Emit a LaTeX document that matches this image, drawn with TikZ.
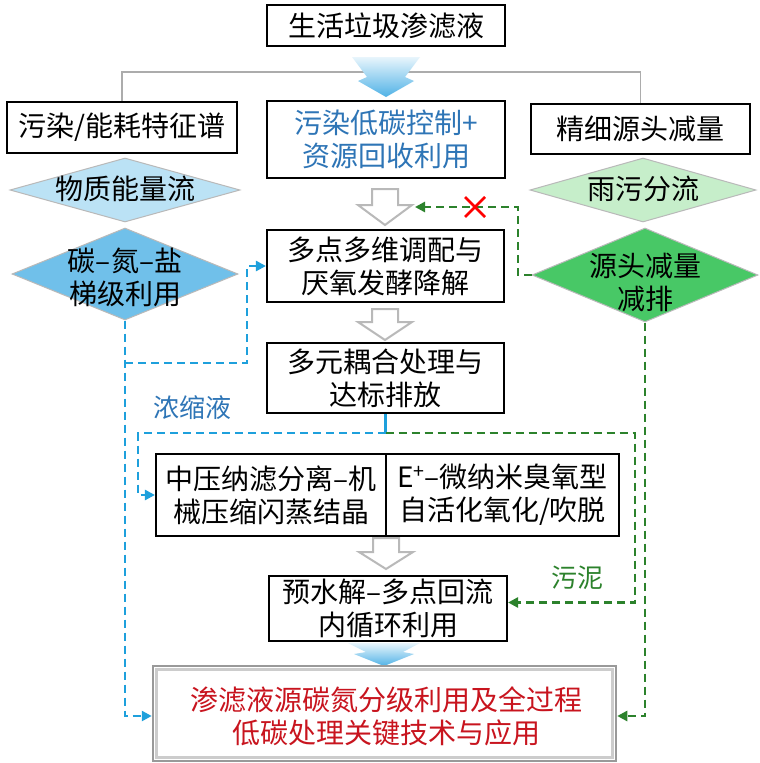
\documentclass[tikz,border=0pt]{standalone}
\usepackage{fontspec}
\setmainfont{Noto Sans CJK SC}
\usetikzlibrary{arrows.meta,shapes.geometric}
\definecolor{lbdia}{RGB}{187,226,245}
\definecolor{bdia}{RGB}{112,192,234}
\definecolor{lgdia}{RGB}{198,238,202}
\definecolor{gdia}{RGB}{72,200,102}
\definecolor{dblue}{RGB}{30,160,220}
\definecolor{dgreen}{RGB}{44,130,44}
\definecolor{tblue}{RGB}{46,117,182}
\definecolor{tred}{RGB}{200,20,30}
\definecolor{agrad}{RGB}{80,178,230}
\definecolor{agradtop}{RGB}{232,245,252}
\begin{document}
\begin{tikzpicture}[x=1pt,y=-1pt,
  fs/.style={font=\fontsize{28}{33}\selectfont},
  box/.style={draw=black, line width=2.1pt, fill=white, inner sep=0pt, align=center, fs},
  dia/.style={diamond, draw=gray!55, line width=1pt, inner sep=0pt},
  lbl/.style={inner sep=0pt, align=center, fs},
  hollow/.style={draw=gray!55, line width=2pt, fill=white, line join=miter},
  gradarrow/.style={top color=agradtop, bottom color=agrad},
  bdash/.style={draw=dblue, line width=2.6pt, dash pattern=on 8pt off 5pt},
  gdash/.style={draw=dgreen, line width=2.6pt, dash pattern=on 8pt off 5pt},
  tip/.style={-{Triangle[length=10pt,width=10pt]}},
]
\fill[white] (0,0) rectangle (760,763);
\useasboundingbox (0,0) rectangle (760,763);

% top boxes
\node[box, minimum width=238pt, minimum height=41pt] (title) at (386,25.5) {生活垃圾渗滤液};
\node[box, minimum width=230pt, minimum height=51pt] (left) at (122,127.5) {污染/能耗特征谱};
\node[box, minimum width=219pt, minimum height=50pt] (right) at (640.5,129) {精细源头减量};
\draw[gray!65, line width=1.8pt] (left.north) -- ++(0,-29) -| (right.north);
\node[box, minimum width=238pt, minimum height=77pt, text=tblue] (ctrl) at (386,139.5) {污染低碳控制+\\资源回收利用};

% gradient arrow top
\shade[gradarrow] (352,57) -- (420,57) -- (405,77) -- (414,81) -- (386,97) -- (358,81) -- (367,77) -- cycle;

% diamonds
\node[dia, fill=lbdia, minimum width=230pt, minimum height=64pt] (d1) at (125,190) {};
\node[lbl] (d1t) at (125,189) {物质能量流};
\node[dia, fill=bdia, minimum width=226pt, minimum height=92pt] (d2) at (125,274) {};
\node[lbl] (d2t) at (125,277) {碳–氮–盐\\梯级利用};
\node[dia, fill=lgdia, minimum width=226pt, minimum height=64pt] (d3) at (643,190) {};
\node[lbl] (d3t) at (643,189) {雨污分流};
\node[dia, fill=gdia, minimum width=226pt, minimum height=94pt] (d4) at (645,275) {};
\node[lbl] (d4t) at (645,282) {源头减量\\减排};

% hollow arrows
\draw[hollow] (372,189) -- (398,189) -- (398,205) -- (412,205) -- (385,225) -- (358,205) -- (372,205) -- cycle;
\draw[hollow] (372,309) -- (398,309) -- (398,322) -- (412,322) -- (385,340) -- (358,322) -- (372,322) -- cycle;
\draw[hollow] (373,538) -- (399,538) -- (399,552) -- (413,552) -- (386,569) -- (359,552) -- (373,552) -- cycle;

% middle boxes
\node[box, minimum width=237pt, minimum height=72pt] (mix) at (385.5,266) {多点多维调配与\\厌氧发酵降解};
\node[box, minimum width=237pt, minimum height=70pt] (coup) at (385.5,378) {多元耦合处理与\\达标排放};
\node[box, minimum width=230pt, minimum height=82pt] (sl) at (271,495) {中压纳滤分离–机\\械压缩闪蒸结晶};
\node[box, minimum width=233pt, minimum height=82pt] (sr) at (502.5,495) {E\textsuperscript{+}–微纳米臭氧型\\自活化氧化/吹脱};
\node[box, minimum width=238pt, minimum height=65pt] (pre) at (388,608.5) {预水解–多点回流\\内循环利用};

% bottom gradient arrow
\shade[gradarrow] (348,643) -- (420,643) -- (403,652) -- (414,654) -- (384,666) -- (354,654) -- (366,652) -- cycle;

% final box
\node[draw=gray!80, line width=2.5pt, fill=white, minimum width=463pt, minimum height=95pt, inner sep=0pt] (final) at (384.5,713.5) {};
\draw[gray!40, line width=3pt] ([xshift=4.5pt,yshift=-4.5pt]final.north west) rectangle ([xshift=-4.5pt,yshift=4.5pt]final.south east);
\node[lbl, text=tred] (finalt) at (386,716) {渗滤液源碳氮分级利用及全过程\\低碳处理关键技术与应用};

% connectors
\coordinate (jn) at (385.5,433);
\draw[dblue, line width=2.4pt] (coup.south) -- (jn);
\draw[bdash, tip] (jn) -- (138,433) |- (sl.west);
\draw[gdash, tip] (jn) -- (635,433) |- ([yshift=6pt]pre.east);

\coordinate (bb) at (125,363);
\coordinate (bl) at (125,716);
\draw[bdash, tip] (d2.south) -- (bl) -- (bl -| final.west);
\draw[bdash, tip] (bb) -- (247,363) |- (mix.west);

\coordinate (gx) at (518,275);
\coordinate (gend) at (415,207);
\draw[gdash, tip] (d4.west) -- (gx) -- (518,207) -- (gend);
\draw[red, line width=2.6pt] (465,197) -- (485,217) (465,217) -- (485,197);

\coordinate (gl) at (645,716);
\draw[gdash, tip] (d4.south) -- (gl) -- (gl -| final.east);

% labels
\node[lbl, text=tblue, font=\fontsize{26}{30}\selectfont] (nsy) at (192,408) {浓缩液};
\node[lbl, text=dgreen, font=\fontsize{26}{30}\selectfont] (wn) at (577,578) {污泥};
\end{tikzpicture}
\end{document}
